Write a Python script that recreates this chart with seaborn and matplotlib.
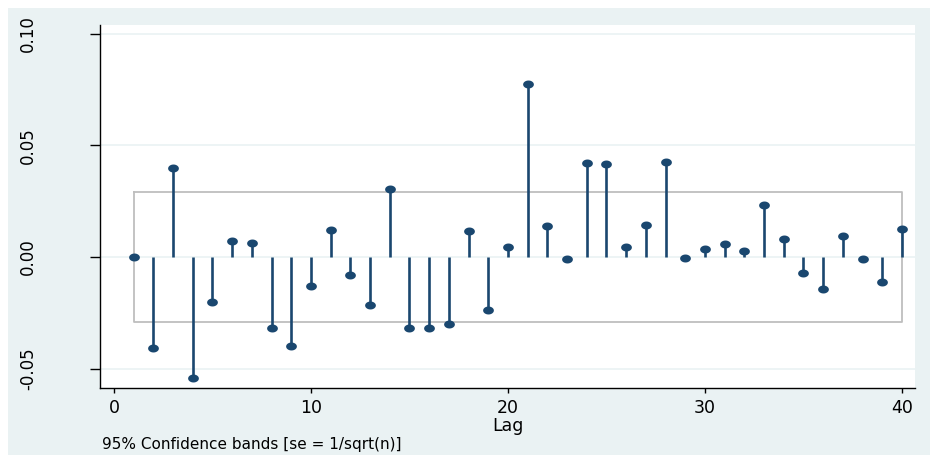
import numpy as np
import pandas as pd
import matplotlib
matplotlib.use("Agg")
import matplotlib.pyplot as plt
import seaborn as sns
from matplotlib.patches import Rectangle

# autocorrelations, lags 1..40
lags = list(range(1, 41))
ac = [0.000, -0.0406, 0.0397, -0.0542, -0.0203, 0.0072, 0.0063, -0.0320, -0.0400, -0.0130,
      0.0120, -0.0080, -0.0217, 0.0307, -0.0316, -0.0316, -0.0298, 0.0117, -0.0239, 0.0045,
      0.0777, 0.0140, -0.0010, 0.0420, 0.0415, 0.0045, 0.0144, 0.0424, -0.0005, 0.0036,
      0.0059, 0.0027, 0.0235, 0.0081, -0.0072, -0.0144, 0.0095, -0.0009, -0.0113, 0.0126]
band = 0.0293
y_ticks = [-0.05, 0.00, 0.05, 0.10]
y_labels = ["-0.05", "0.00", "0.05", "0.10"]
x_ticks = [0, 10, 20, 30, 40]

df = pd.DataFrame({"lag": lags, "ac": ac})

sns.set_style("white")
plt.rcParams["font.family"] = ["DejaVu Sans"]
plt.rcParams["text.color"] = "black"
plt.rcParams["xtick.labelcolor"] = "black"
plt.rcParams["ytick.labelcolor"] = "black"

navy = "#1A476F"
bg = "#EAF2F3"

fig = plt.figure(figsize=(9.3, 4.63), dpi=100, facecolor="white")
fig.patches.append(Rectangle((8 / 930, 8 / 463), 922 / 930, 447 / 463,
                             transform=fig.transFigure, facecolor=bg,
                             edgecolor="none", zorder=-10))
ax = fig.add_axes([100 / 930, 1 - 388 / 463, 815 / 930, 363 / 463])
ax.set_facecolor("white")

# confidence band outline
ax.plot([1, 40, 40, 1, 1], [band, band, -band, -band, band],
        color="#BEBEBE", lw=1.3, zorder=2)

# stems
ax.vlines(df["lag"], 0, df["ac"], color=navy, lw=1.9, zorder=3)
t = np.linspace(0, 2 * np.pi, 40)
ell = np.column_stack([1.35 * np.cos(t), np.sin(t)])
sns.scatterplot(data=df, x="lag", y="ac", ax=ax, marker=ell, s=60,
                color=navy, edgecolor=navy, linewidth=0, zorder=4, legend=False)

ax.set_xlim(-0.71, 40.66)
ax.set_ylim(-0.0587, 0.1040)
ax.set_yticks(y_ticks)
ax.set_yticklabels(y_labels, rotation=90, va="center", fontsize=12)
ax.set_xticks(x_ticks)
ax.set_xticklabels([str(v) for v in x_ticks], fontsize=12.5)
for y in y_ticks:
    ax.axhline(y, color=bg, lw=1.2, zorder=1)

ax.tick_params(axis="y", direction="out", length=7.2, width=1, color="black",
               labelcolor="black", left=True, pad=38)
ax.tick_params(axis="x", direction="out", length=3.6, width=1, color="black",
               labelcolor="black", bottom=True, pad=4)
for s in ["top", "right"]:
    ax.spines[s].set_visible(False)
for s in ["left", "bottom"]:
    ax.spines[s].set_color("black")
    ax.spines[s].set_linewidth(1)

ax.set_xlabel("Lag", fontsize=12.5, labelpad=0, color="black")
ax.set_ylabel("")
fig.text(102 / 930, 1 - 445 / 463, "95% Confidence bands [se = 1/sqrt(n)]",
         fontsize=11, va="center", ha="left", color="black")

fig.savefig("out.png", dpi=100, facecolor=fig.get_facecolor())
